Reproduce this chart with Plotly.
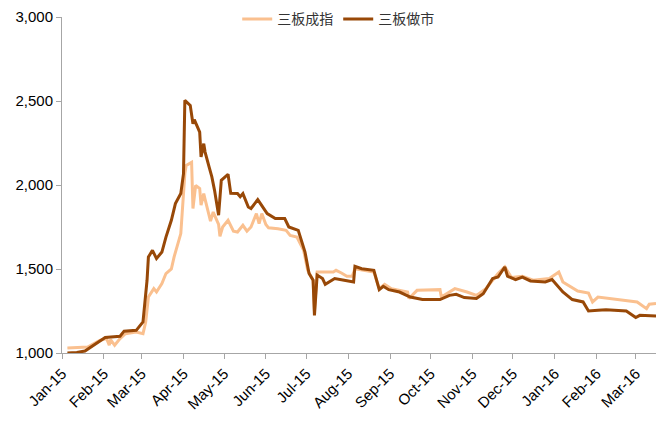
import plotly.graph_objects as go

# 三板成指 (light)
dates_cz = ["2015-01-05","2015-01-12","2015-01-20","2015-01-29","2015-02-03","2015-02-05","2015-02-06","2015-02-09",
            "2015-02-13","2015-02-17","2015-02-25","2015-03-02","2015-03-04","2015-03-06","2015-03-09","2015-03-10",
            "2015-03-12","2015-03-16","2015-03-19","2015-03-23","2015-03-25","2015-03-30","2015-04-02","2015-04-03",
            "2015-04-07","2015-04-08","2015-04-10","2015-04-13","2015-04-14","2015-04-16","2015-04-17","2015-04-21",
            "2015-04-23","2015-04-27","2015-04-28","2015-04-30","2015-05-04","2015-05-08","2015-05-11","2015-05-15",
            "2015-05-18","2015-05-21","2015-05-25","2015-05-27","2015-05-29","2015-06-01","2015-06-03","2015-06-10",
            "2015-06-16","2015-06-19","2015-06-24","2015-06-29","2015-07-02","2015-07-06","2015-07-07","2015-07-09",
            "2015-07-21","2015-07-23","2015-07-27","2015-07-31","2015-08-04","2015-08-06","2015-08-20","2015-08-24",
            "2015-08-28","2015-09-02","2015-09-14","2015-09-15","2015-09-21","2015-09-28","2015-10-08","2015-10-09",
            "2015-10-19","2015-10-28","2015-11-04","2015-11-11","2015-11-17","2015-11-20","2015-11-25","2015-11-30",
            "2015-12-08","2015-12-16","2015-12-28","2016-01-04","2016-01-07","2016-01-18","2016-01-26","2016-01-29",
            "2016-02-02","2016-02-18","2016-03-02","2016-03-09","2016-03-11","2016-03-16"]
vals_cz = [1030,1033,1036,1075,1086,1046,1080,1046,
           1086,1115,1125,1115,1185,1333,1373,1383,
           1363,1413,1473,1500,1571,1711,2068,2117,
           2135,1860,1998,1979,1880,1949,1915,1785,
           1839,1765,1695,1750,1790,1725,1720,1760,
           1725,1750,1830,1770,1830,1765,1745,1740,
           1730,1700,1690,1611,1492,1433,1250,1482,
           1482,1492,1476,1457,1457,1502,1482,1383,
           1409,1383,1363,1324,1373,1373,1377,1333,
           1383,1363,1343,1383,1443,1473,1512,1449,
           1457,1433,1443,1482,1423,1369,1357,1304,
           1333,1318,1304,1264,1290,1294]

# 三板做市 (dark)
dates_zs = ["2015-01-05","2015-01-12","2015-01-18","2015-02-02","2015-02-13","2015-02-16","2015-02-25","2015-03-02",
            "2015-03-05","2015-03-06","2015-03-09","2015-03-12","2015-03-16","2015-03-19","2015-03-23","2015-03-26",
            "2015-03-30","2015-04-01","2015-04-02","2015-04-06","2015-04-08","2015-04-09","2015-04-13","2015-04-14",
            "2015-04-16","2015-04-17","2015-04-20","2015-04-22","2015-04-24","2015-04-27","2015-04-29","2015-05-04",
            "2015-05-06","2015-05-11","2015-05-13","2015-05-15","2015-05-19","2015-05-21","2015-05-26","2015-06-02",
            "2015-06-08","2015-06-15","2015-06-18","2015-06-25","2015-06-30","2015-07-03","2015-07-06","2015-07-07",
            "2015-07-09","2015-07-13","2015-07-15","2015-07-22","2015-07-29","2015-08-05","2015-08-06","2015-08-11",
            "2015-08-20","2015-08-24","2015-08-27","2015-08-31","2015-09-08","2015-09-16","2015-09-25","2015-10-08",
            "2015-10-15","2015-10-20","2015-10-26","2015-11-04","2015-11-09","2015-11-16","2015-11-20","2015-11-25",
            "2015-11-27","2015-12-03","2015-12-08","2015-12-14","2015-12-25","2015-12-30","2016-01-07","2016-01-14",
            "2016-01-22","2016-01-26","2016-02-02","2016-02-08","2016-02-23","2016-03-01","2016-03-04","2016-03-16"]
vals_zs = [1000,1003,1012,1092,1100,1130,1135,1185,
           1433,1571,1611,1562,1601,1690,1790,1889,
           1949,2068,2504,2474,2365,2389,2315,2167,
           2246,2196,2107,2048,1968,1820,2028,2064,
           1950,1949,1930,1949,1869,1860,1913,1830,
           1800,1800,1750,1730,1601,1473,1433,1224,
           1464,1443,1409,1443,1433,1423,1516,1502,
           1492,1377,1397,1377,1363,1333,1318,1318,
           1343,1349,1330,1324,1353,1443,1452,1512,
           1457,1437,1452,1429,1423,1437,1363,1318,
           1304,1250,1254,1258,1250,1211,1224,1220]

y_ticks = [1000, 1500, 2000, 2500, 3000]

fig = go.Figure()
fig.add_trace(go.Scatter(x=dates_cz, y=vals_cz, mode="lines", name="三板成指",
                         line=dict(color="#FAC08F", width=3)))
fig.add_trace(go.Scatter(x=dates_zs, y=vals_zs, mode="lines", name="三板做市",
                         line=dict(color="#984807", width=3)))

fig.update_layout(
    width=656, height=421,
    margin=dict(l=62, r=0, t=17, b=68, autoexpand=False),
    paper_bgcolor="white", plot_bgcolor="white",
    font=dict(family="Liberation Sans, Arial", size=15, color="#000000"),
    showlegend=True,
    legend=dict(orientation="h", x=0.465, xanchor="center", y=0.993, yanchor="middle",
                font=dict(family="Noto Sans CJK SC", size=14, color="#333333"),
                bgcolor="rgba(0,0,0,0)", itemwidth=30),
    xaxis=dict(type="date", range=["2015-01-01", "2016-03-16"], automargin=False,
               tick0="2015-01-01", dtick="M1", tickformat="%b-%y", tickangle=-45,
               showgrid=False, showline=True, linecolor="#A6A6A6", linewidth=1,
               ticks="outside", ticklen=5, tickcolor="#A6A6A6", zeroline=False,
               tickfont=dict(size=15)),
    yaxis=dict(range=[1000, 3000], tickvals=y_ticks, tickformat=",", automargin=False,
               showgrid=False, showline=True, linecolor="#A6A6A6", linewidth=1,
               ticks="outside", ticklen=5, tickcolor="#A6A6A6", zeroline=False,
               tickfont=dict(size=15)),
)

fig.write_html("out.html", config={"displayModeBar": False},
               post_script="document.body.style.margin='0px';")
